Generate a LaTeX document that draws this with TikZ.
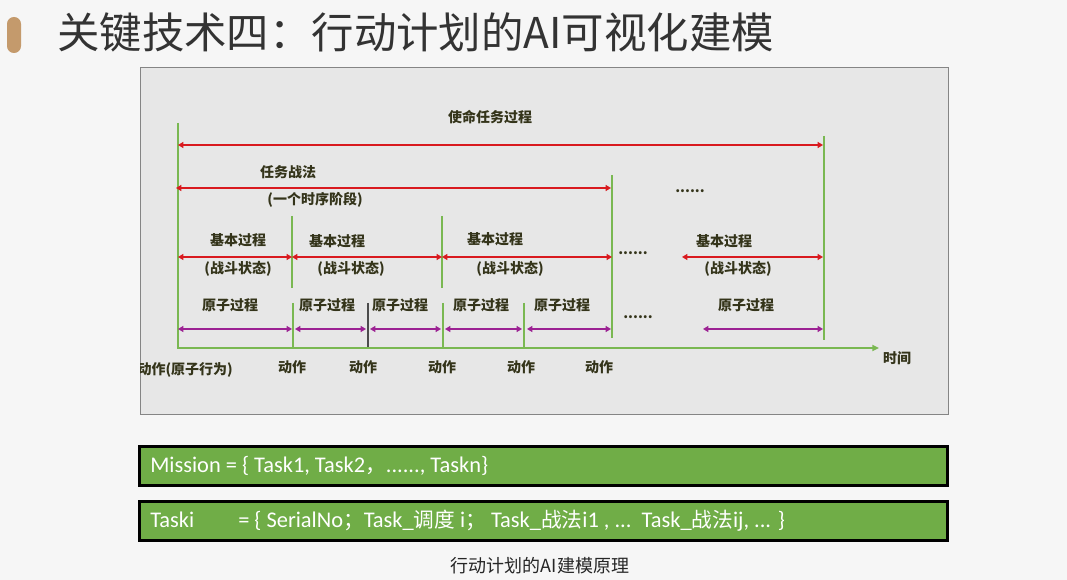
\documentclass[tikz,border=0pt]{standalone}
\usepackage{fontspec}
\setmainfont{Noto Sans CJK SC}
\newfontfamily\cjk{Noto Sans CJK SC}
\newfontfamily\calfont{Carlito}
\usetikzlibrary{arrows.meta,shadows}
\definecolor{bgc}{HTML}{F6F6F6}
\definecolor{panel}{HTML}{E7E7E7}
\definecolor{panelborder}{HTML}{858585}
\definecolor{redar}{HTML}{D91A1F}
\definecolor{purpar}{HTML}{9C2293}
\definecolor{grn}{HTML}{7AB852}
\definecolor{boxgreen}{HTML}{70AD47}
\definecolor{pillc}{HTML}{C49A6C}
\definecolor{titlec}{HTML}{333333}
\definecolor{lbl}{HTML}{34341A}
\tikzset{
  lab/.style={font=\bfseries\fontsize{10.5pt}{12pt}\selectfont, text=lbl, inner sep=0pt},
  redarrow/.style={draw=redar, line width=1.5pt, {Triangle[length=4pt,width=4.5pt]}-{Triangle[length=4pt,width=4.5pt]}},
  purparrow/.style={draw=purpar, line width=1.5pt, {Triangle[length=4pt,width=4.5pt]}-{Triangle[length=4pt,width=4.5pt]}},
  gline/.style={draw=grn, line width=1.3pt},
  kline/.style={draw=black!70, line width=0.8pt},
  gbox/.style={draw=black, line width=2.25pt, fill=boxgreen, minimum width=606pt, minimum height=29.25pt, inner sep=0pt,
    drop shadow={opacity=0.35, shadow xshift=1pt, shadow yshift=-1pt}},
  boxtext/.style={font=\calfont\fontsize{16.8pt}{19pt}\selectfont, text=white, inner sep=0pt, anchor=west},
}
\newcommand{\zh}[1]{{\cjk\fontsize{15.5pt}{19pt}\selectfont #1}}
\begin{document}
\begin{tikzpicture}[x=0.75pt,y=-0.75pt]
\useasboundingbox (0,0) rectangle (1067,580);
\fill[bgc] (0,0) rectangle (1067,580);
% title
\fill[pillc, rounded corners=5.2pt] (7,17) rectangle (21,53);
\node[anchor=west, inner sep=0pt, text=titlec, font=\fontsize{31.8pt}{36pt}\selectfont] (title) at (57,32) {关键技术四：行动计划的AI可视化建模};
% panel
\filldraw[fill=panel, draw=panelborder, line width=0.75pt] (140,68) rectangle (948,415);

% coordinates of vertical lines
\coordinate (l0t) at (178,123); \coordinate (l0b) at (178,348);
\coordinate (r0t) at (824,136); \coordinate (r0b) at (824,340);
\coordinate (m0t) at (612,175); \coordinate (m0b) at (612,338);
\coordinate (b1t) at (292,216); \coordinate (b1b) at (292,288);
\coordinate (a1t) at (293,303); \coordinate (a1b) at (293,348);
\coordinate (b2t) at (442,216); \coordinate (b2b) at (442,288);
\coordinate (a2t) at (443,303); \coordinate (a2b) at (443,348);
\coordinate (a3t) at (524,303); \coordinate (a3b) at (524,348);
\coordinate (k1t) at (368,303); \coordinate (k1b) at (368,348);
\coordinate (axs) at (177,348); \coordinate (axe) at (879,348);

\draw[gline] (l0t) -- (l0b);
\draw[gline] (r0t) -- (r0b);
\draw[gline] (m0t) -- (m0b);
\draw[gline] (b1t) -- (b1b);
\draw[gline] (a1t) -- (a1b);
\draw[gline] (b2t) -- (b2b);
\draw[gline] (a2t) -- (a2b);
\draw[gline] (a3t) -- (a3b);
\draw[kline] (k1t) -- (k1b);
\draw[gline, -{Triangle[length=5pt,width=4.5pt]}] (axs) -- (axe);

% red arrows
\coordinate (m1) at (178,145); \coordinate (m2) at (823,145);
\coordinate (t1) at (176,188); \coordinate (t2) at (611,188);
\coordinate (p0) at (178,257); \coordinate (p1) at (292,257); \coordinate (p2) at (442,257); \coordinate (p3) at (612,257);
\coordinate (p4) at (682,257); \coordinate (p5) at (823,257);
\draw[redarrow] (m1) -- (m2);
\draw[redarrow] (t1) -- (t2);
\draw[redarrow] (p0) -- (p1);
\draw[redarrow] (p1) -- (p2);
\draw[redarrow] (p2) -- (p3);
\draw[redarrow] (p4) -- (p5);

% purple arrows
\coordinate (q0) at (178,329); \coordinate (q1) at (292,329);
\coordinate (q2) at (295,329); \coordinate (q3) at (366,329);
\coordinate (q4) at (370,329); \coordinate (q5) at (441,329);
\coordinate (q6) at (445,329); \coordinate (q7) at (522,329);
\coordinate (q8) at (527,329); \coordinate (q9) at (611,329);
\coordinate (q10) at (703,329); \coordinate (q11) at (823,329);
\draw[purparrow] (q0) -- (q1);
\draw[purparrow] (q2) -- (q3);
\draw[purparrow] (q4) -- (q5);
\draw[purparrow] (q6) -- (q7);
\draw[purparrow] (q8) -- (q9);
\draw[purparrow] (q10) -- (q11);

% labels
\node[lab] (l1) at (490,117) {使命任务过程};
\node[lab] (l2) at (288,172) {任务战法};
\node[lab] (l3) at (315,200) {(一个时序阶段)};
\node[lab] (d1) at (690,191) {......};
\node[lab] (jb1) at (238,240) {基本过程};
\node[lab] (jb2) at (337,241) {基本过程};
\node[lab] (jb3) at (495,239) {基本过程};
\node[lab] (jb4) at (724,241) {基本过程};
\node[lab] (zd1) at (238,269) {(战斗状态)};
\node[lab] (zd2) at (351,269) {(战斗状态)};
\node[lab] (zd3) at (510,269) {(战斗状态)};
\node[lab] (zd4) at (738,269) {(战斗状态)};
\node[lab] (d2) at (633,253) {......};
\node[lab] (yz1) at (230,305) {原子过程};
\node[lab] (yz2) at (327,305) {原子过程};
\node[lab] (yz3) at (400,305) {原子过程};
\node[lab] (yz4) at (481,305) {原子过程};
\node[lab] (yz5) at (562,305) {原子过程};
\node[lab] (yz6) at (746,305) {原子过程};
\node[lab] (d3) at (638,317) {......};
\begin{scope}
\clip (140,68) rectangle (948,415);
\node[lab, anchor=east] (dz0) at (233,370) {动作(原子行为)};
\end{scope}
\node[lab] (dz1) at (292,367) {动作};
\node[lab] (dz2) at (363,367) {动作};
\node[lab] (dz3) at (442,367) {动作};
\node[lab] (dz4) at (521,367) {动作};
\node[lab] (dz5) at (599,367) {动作};
\node[lab] (sj) at (897,358) {时间};

% bottom boxes
\node[gbox] (box1) at (543.5,466) {};
\node[gbox] (box2) at (543.5,521) {};
\node[boxtext] (t1txt) at (150,466) {Mission = \{ Task1, Task2\zh{，}......, Taskn\}};
\node[boxtext] (t2txt) at (150,521) {\makebox[66pt][l]{Taski}= \{ SerialNo\zh{；}Task\_\zh{调度} i\zh{；}\ Task\_\zh{战法}i1 , ...\ \ Task\_\zh{战法}ij, ... \}};
\node[inner sep=0pt, text=black!85, font=\fontsize{13.5pt}{15pt}\selectfont] (cap) at (540,566) {行动计划的AI建模原理};
\end{tikzpicture}
\end{document}
